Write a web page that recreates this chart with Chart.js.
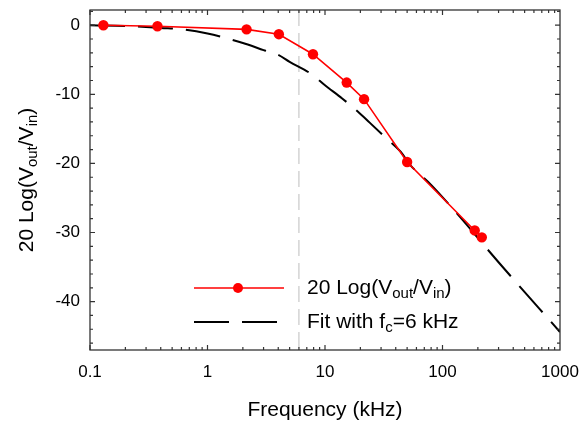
<!DOCTYPE html>
<html>
<head>
<meta charset="utf-8">
<script src="https://cdn.jsdelivr.net/npm/chart.js@4.4.1/dist/chart.umd.min.js"></script>
<style>
  html, body { margin: 0; padding: 0; background: #fff; }
  #wrap { width: 581px; height: 437px; }
</style>
</head>
<body>
<div id="wrap"><canvas id="bode"></canvas></div>
<script>
const freqData = [0.13, 0.375, 2.15, 4.05, 7.9, 15.3, 21.5, 50, 188, 216];
const gainData = [0, -0.15, -0.6, -1.3, -4.2, -8.3, -10.7, -19.8, -29.7, -30.7];

// fit curve (fc = 6 kHz)
const freqFit = [0.1, 0.2, 0.4, 0.62, 1, 1.6, 2.2, 3, 4, 5, 7.7, 10, 14, 19, 24, 33, 44, 53, 80, 132, 300, 1000];
const gainFit = [0, -0.1, -0.4, -0.6, -1.2, -2.1, -2.8, -3.6, -4.3, -5.3, -7.1, -8.7, -10.6, -12.5, -14.1, -16.3, -18.3, -20.2, -23.1, -27.2, -34.3, -44.4];

const xTicks = [0.1, 1, 10, 100, 1000];
const yTicks = [-40, -30, -20, -10, 0];
const cutoff = 6;

const FONT = '"Liberation Sans", Arial, sans-serif';

// text with subscripts: parts = [[text, isSub], ...]
function drawRich(ctx, parts, x, y, size) {
  let cx = x;
  parts.forEach(([t, sub]) => {
    ctx.font = (sub ? Math.round(size * 0.7) : size) + 'px ' + FONT;
    ctx.fillText(t, cx, sub ? y + size * 0.28 : y);
    cx += ctx.measureText(t).width;
  });
  return cx;
}
function richWidth(ctx, parts, size) {
  let w = 0;
  parts.forEach(([t, sub]) => {
    ctx.font = (sub ? Math.round(size * 0.7) : size) + 'px ' + FONT;
    w += ctx.measureText(t).width;
  });
  return w;
}

const yTitle = [['20 Log(V', false], ['out', true], ['/V', false], ['in', true], [')', false]];
const fitLabel = [['Fit with f', false], ['c', true], ['=6 kHz', false]];

// no extra room for labels that hang over the plot edges
function noPad(s) {
  s.paddingLeft = s.paddingRight = s.paddingTop = s.paddingBottom = 0;
}

const framePlugin = {
  id: 'frame',
  beforeDatasetsDraw(chart) {
    const { ctx, chartArea: a, scales: { x } } = chart;
    const px = x.getPixelForValue(cutoff);
    ctx.save();
    ctx.strokeStyle = '#bdbdbd';
    ctx.lineWidth = 1;
    ctx.setLineDash([16, 7]);
    ctx.beginPath();
    ctx.moveTo(px, a.top);
    ctx.lineTo(px, a.bottom);
    ctx.stroke();
    ctx.restore();
  },
  afterDraw(chart) {
    const { ctx, chartArea: a, scales: { x, y } } = chart;
    ctx.save();
    ctx.strokeStyle = '#333';
    ctx.lineWidth = 1.3;
    ctx.strokeRect(a.left, a.top, a.right - a.left, a.bottom - a.top);

    // ticks, pointing inward on all four sides
    ctx.lineWidth = 1.2;
    ctx.beginPath();
    for (let d = 0.1; d < 1000; d *= 10) {
      for (let m = 1; m < 10; m++) {
        const px = x.getPixelForValue(d * m);
        const len = m === 1 ? 5 : 3;
        ctx.moveTo(px, a.bottom); ctx.lineTo(px, a.bottom - len);
        ctx.moveTo(px, a.top); ctx.lineTo(px, a.top + len);
      }
    }
    for (let v = -46; v <= 2; v += 2) {
      const py = y.getPixelForValue(v);
      const len = v % 10 === 0 ? 5 : 3;
      ctx.moveTo(a.left, py); ctx.lineTo(a.left + len, py);
      ctx.moveTo(a.right, py); ctx.lineTo(a.right - len, py);
    }
    ctx.stroke();

    // y axis title with subscripts
    ctx.fillStyle = '#000';
    ctx.textBaseline = 'middle';
    ctx.textAlign = 'left';
    ctx.translate(27, (a.top + a.bottom) / 2);
    ctx.rotate(-Math.PI / 2);
    const tw = richWidth(ctx, yTitle, 21);
    drawRich(ctx, yTitle, -tw / 2, 0, 21);
    ctx.restore();

    // legend
    ctx.save();
    const l1 = 288, l2 = 322;
    ctx.strokeStyle = '#ff0000';
    ctx.lineWidth = 1.6;
    ctx.beginPath(); ctx.moveTo(194, l1); ctx.lineTo(284, l1); ctx.stroke();
    ctx.fillStyle = '#ff0000';
    ctx.beginPath(); ctx.arc(238, l1, 5, 0, Math.PI * 2); ctx.fill();
    ctx.strokeStyle = '#000';
    ctx.lineWidth = 2;
    ctx.setLineDash([35, 13]);
    ctx.beginPath(); ctx.moveTo(194, l2); ctx.lineTo(278, l2); ctx.stroke();
    ctx.setLineDash([]);
    ctx.fillStyle = '#000';
    ctx.textBaseline = 'middle';
    ctx.textAlign = 'left';
    drawRich(ctx, yTitle, 307, l1, 21);
    drawRich(ctx, fitLabel, 307, l2, 21);
    ctx.restore();
  }
};

new Chart(document.getElementById('bode'), {
  type: 'line',
  data: {
    datasets: [
      {
        label: 'Fit',
        data: freqFit.map((f, i) => ({ x: f, y: gainFit[i] })),
        borderColor: '#000',
        borderWidth: 2,
        borderDash: [35, 13],
        pointRadius: 0,
        cubicInterpolationMode: 'monotone',
        order: 2
      },
      {
        label: '20 Log(Vout/Vin)',
        data: freqData.map((f, i) => ({ x: f, y: gainData[i] })),
        borderColor: '#ff0000',
        backgroundColor: '#ff0000',
        borderWidth: 1.6,
        pointRadius: 5.2,
        pointBorderWidth: 0,
        tension: 0,
        order: 1
      }
    ]
  },
  options: {
    responsive: true,
    maintainAspectRatio: false,
    animation: false,
    layout: { padding: { top: 10, right: 21, left: 0, bottom: 0 } },
    plugins: { legend: { display: false }, tooltip: { enabled: false } },
    scales: {
      x: {
        type: 'logarithmic',
        min: 0.1,
        max: 1000,
        afterBuildTicks: s => { s.ticks = xTicks.map(v => ({ value: v })); },
        afterFit: s => { s.height = 87; noPad(s); },
        grid: { display: false, drawTicks: false },
        border: { display: false },
        ticks: {
          color: '#000',
          font: { family: FONT, size: 17 },
          padding: 12,
          maxRotation: 0,
          autoSkip: false,
          callback: v => String(v)
        },
        title: {
          display: true,
          text: 'Frequency (kHz)',
          color: '#000',
          font: { family: FONT, size: 21 },
          padding: { top: 0, bottom: 14 }
        }
      },
      y: {
        min: -47,
        max: 2.2,
        afterBuildTicks: s => { s.ticks = yTicks.map(v => ({ value: v })); },
        afterFit: s => { s.width = 90; noPad(s); },
        grid: { display: false, drawTicks: false },
        border: { display: false },
        ticks: {
          color: '#000',
          font: { family: FONT, size: 17 },
          padding: 10
        }
      }
    }
  },
  plugins: [framePlugin]
});
</script>
</body>
</html>
